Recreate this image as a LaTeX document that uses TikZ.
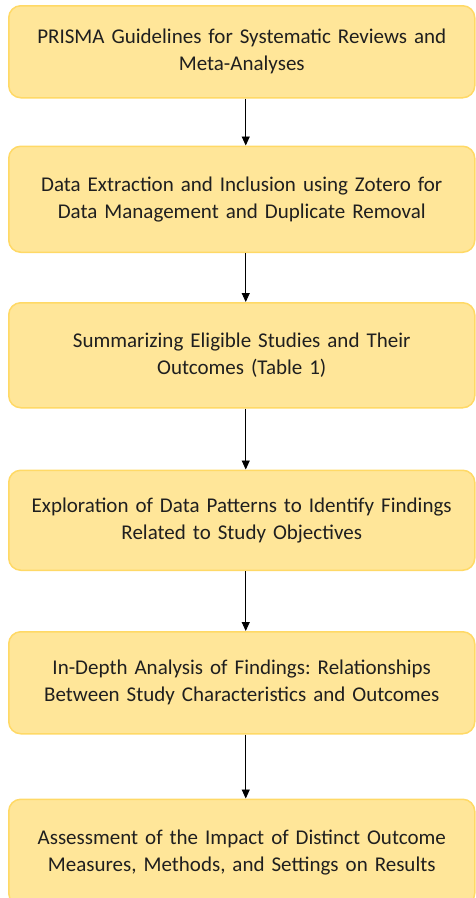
\documentclass[tikz,border=0pt]{standalone}
\usepackage{fontspec}
\setmainfont{Carlito}
\usetikzlibrary{positioning,arrows.meta}
\definecolor{stagefill}{HTML}{FFE699}
\definecolor{stageline}{HTML}{FFD966}
\frenchspacing

\begin{document}
\begin{tikzpicture}[
    x=1pt, y=1pt,
    stage/.style={rectangle, rounded corners=12pt, draw=stageline, fill=stagefill, line width=1.5pt, minimum width=466pt, text width=456pt, align=center, font=\fontsize{21}{27}\selectfont, text=black!88},
    arrow/.style={-{Triangle[length=9pt,width=8pt]}, line width=0.9pt, black}
]
\useasboundingbox (0,0) rectangle (475,-898);

\node[stage, minimum height=92pt, anchor=north west] (prisma) at (8,-5) {PRISMA Guidelines for Systematic Reviews and\\Meta-Analyses};
\node[stage, minimum height=106pt, below=47pt of prisma] (extraction) {Data Extraction and Inclusion using Zotero for\\Data Management and Duplicate Removal};
\node[stage, minimum height=105pt, below=49pt of extraction] (summary) {Summarizing Eligible Studies and Their\\Outcomes (Table 1)};
\node[stage, minimum height=100pt, below=61pt of summary] (patterns) {Exploration of Data Patterns to Identify Findings\\Related to Study Objectives};
\node[stage, minimum height=102pt, below=60pt of patterns] (analysis) {In-Depth Analysis of Findings: Relationships\\Between Study Characteristics and Outcomes};
\node[stage, minimum height=106pt, below=64pt of analysis] (impact) {Assessment of the Impact of Distinct Outcome\\Measures, Methods, and Settings on Results};

% arrows between stages
\draw[arrow] ([xshift=4pt]prisma.south) -- ([xshift=4pt]extraction.north);
\draw[arrow] ([xshift=4pt]extraction.south) -- ([xshift=4pt]summary.north);
\draw[arrow] ([xshift=4pt]summary.south) -- ([xshift=4pt]patterns.north);
\draw[arrow] ([xshift=4pt]patterns.south) -- ([xshift=4pt]analysis.north);
\draw[arrow] ([xshift=4pt]analysis.south) -- ([xshift=4pt]impact.north);

\end{tikzpicture}
\end{document}
